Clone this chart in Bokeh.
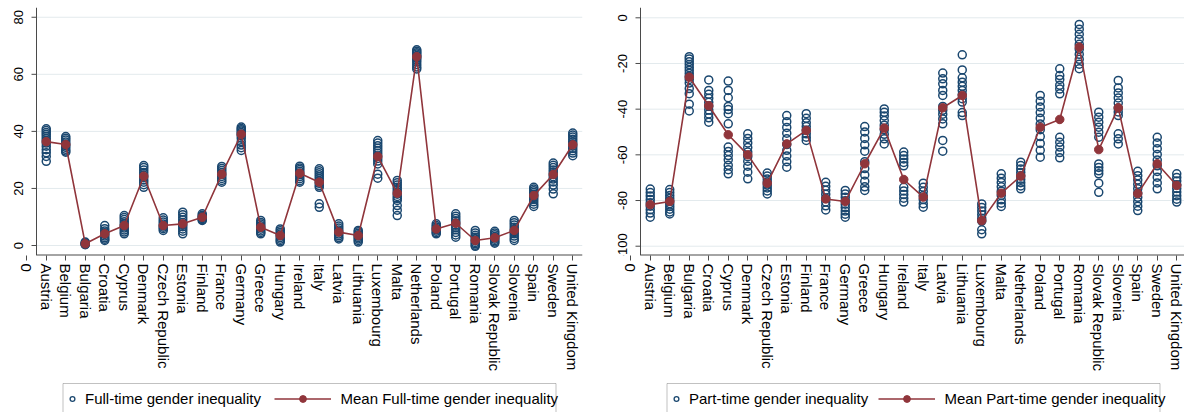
import numpy as np
from bokeh.plotting import figure
from bokeh.models import Range1d, FixedTicker, Legend, LegendItem, BoxAnnotation
from bokeh.core.properties import value
from bokeh.layouts import row, column
from bokeh.embed import file_html
from bokeh.resources import INLINE

# ---------------- data ----------------
countries = ["Austria", "Belgium", "Bulgaria", "Croatia", "Cyprus", "Denmark",
             "Czech Republic", "Estonia", "Finland", "France", "Germany", "Greece",
             "Hungary", "Ireland", "Italy", "Latvia", "Lithuania", "Luxembourg",
             "Malta", "Netherlands", "Poland", "Portugal", "Romania",
             "Slovak Republic", "Slovenia", "Spain", "Sweden", "United Kingdom"]

fulltime_obs = [
    [40.9, 40.3, 39.6, 39.0, 38.3, 37.5, 36.8, 35.9, 34.8, 33.6, 32.5, 31.2, 29.5],
    [38.2, 37.6, 37.0, 36.3, 35.6, 35.0, 34.4, 33.7, 33.1, 32.7],
    [1.2, 0.9, 0.7, 0.5, 0.4, 0.3],
    [7.0, 5.9, 5.1, 4.5, 3.9, 3.3, 2.7, 2.2, 1.8],
    [10.5, 9.8, 9.1, 8.3, 7.5, 6.8, 6.1, 5.4, 4.7, 4.1],
    [28.0, 27.3, 26.5, 25.6, 24.7, 23.9, 23.0, 22.2, 21.3, 20.4],
    [9.7, 8.9, 8.2, 7.5, 6.9, 6.4, 5.9, 5.3],
    [11.7, 10.8, 9.9, 9.0, 8.1, 7.3, 6.6, 5.8, 5.0, 4.1],
    [11.1, 10.6, 10.2, 9.8, 9.4, 9.0, 8.8],
    [27.7, 27.0, 26.3, 25.6, 24.9, 24.2, 23.5, 22.8, 22.2],
    [41.5, 41.0, 40.6, 40.1, 39.6, 39.1, 38.5, 37.6, 36.4, 35.2, 34.3, 33.3],
    [8.8, 8.1, 7.5, 6.9, 6.3, 5.7, 5.1, 4.6, 4.1],
    [5.8, 5.2, 4.6, 4.0, 3.4, 2.8, 2.2, 1.7, 1.2],
    [27.8, 27.2, 26.6, 26.0, 25.4, 24.8, 24.1, 23.4, 22.7, 22.2],
    [26.9, 26.2, 25.5, 24.8, 24.1, 23.4, 22.6, 21.8, 21.0, 20.4, 14.6, 13.4],
    [7.6, 6.8, 6.1, 5.4, 4.7, 4.0, 3.4, 2.8, 2.3],
    [5.3, 4.8, 4.3, 3.8, 3.3, 2.8, 2.3, 1.8, 1.2],
    [36.8, 35.9, 35.0, 34.1, 33.2, 32.3, 31.4, 30.5, 29.6, 28.6, 25.0, 23.6],
    [22.8, 22.0, 21.2, 20.4, 19.6, 18.8, 18.0, 17.2, 16.5, 15.8, 14.0, 12.4, 10.5],
    [68.6, 68.1, 67.6, 67.1, 66.6, 66.1, 65.6, 65.0, 64.3, 63.4, 62.6, 61.9],
    [7.6, 7.0, 6.5, 6.0, 5.5, 5.0, 4.5, 4.1],
    [11.1, 10.3, 9.5, 8.7, 7.9, 7.1, 6.3, 5.5, 4.6, 3.7, 2.9],
    [5.3, 4.4, 3.6, 2.9, 2.3, 1.7, 1.1, 0.6, 0.1, -0.3],
    [5.0, 4.4, 3.8, 3.2, 2.7, 2.2, 1.7, 1.2, 0.8],
    [8.8, 8.0, 7.2, 6.4, 5.6, 4.9, 4.1, 3.3, 2.5, 1.8],
    [20.4, 19.8, 19.2, 18.6, 18.0, 17.4, 16.8, 16.1, 15.3, 14.5, 13.7],
    [28.9, 28.1, 27.3, 26.5, 25.7, 24.9, 24.1, 23.3, 22.3, 21.2, 19.8, 18.1],
    [39.4, 38.7, 38.0, 37.2, 36.4, 35.6, 34.8, 34.0, 33.2, 32.4, 31.5],
]
fulltime_mean = [36.4, 35.4, 0.6, 4.1, 7.0, 24.3, 7.0, 7.6, 9.9, 25.0, 39.0, 6.4,
                 3.5, 25.3, 22.2, 4.7, 3.5, 31.2, 18.3, 66.2, 5.8, 7.8, 1.75,
                 2.7, 5.3, 17.5, 24.9, 35.3]

parttime_obs = [
    [-75.0, -76.5, -78.0, -79.5, -81.0, -82.5, -84.0, -85.5, -87.3],
    [-75.2, -76.5, -77.8, -79.0, -80.2, -81.4, -82.6, -83.8, -85.0, -85.9],
    [-17.0, -18.0, -19.2, -20.5, -21.8, -23.0, -24.3, -25.6, -27.0, -28.6, -31.0, -33.2, -37.8, -40.8],
    [-27.2, -31.8, -33.5, -35.2, -37.0, -38.7, -40.4, -42.1, -43.8, -45.7],
    [-27.7, -31.8, -35.0, -38.8, -40.2, -42.0, -46.4, -56.6, -58.5, -60.3, -62.2, -64.6, -66.5, -68.3],
    [-50.8, -52.8, -54.8, -56.8, -58.8, -60.8, -62.8, -65.0, -67.6, -70.5],
    [-68.0, -69.3, -70.6, -71.9, -73.2, -74.5, -75.8, -77.1],
    [-42.8, -45.5, -48.0, -50.5, -53.0, -55.5, -58.0, -60.5, -63.0, -65.4],
    [-42.0, -44.0, -46.0, -47.6, -49.2, -50.8, -52.3, -53.7],
    [-72.0, -73.8, -75.5, -77.2, -78.9, -80.6, -82.3, -84.1],
    [-75.6, -77.1, -78.6, -80.1, -81.6, -83.1, -84.6, -86.0, -87.3],
    [-47.6, -50.0, -52.8, -55.6, -58.4, -63.0, -66.0, -68.8, -71.6, -74.0, -75.6],
    [-39.9, -41.4, -43.0, -45.0, -47.0, -49.0, -51.0, -53.0, -55.2],
    [-58.8, -60.3, -61.8, -63.3, -64.8, -74.2, -75.8, -77.4, -79.0, -80.7],
    [-72.4, -74.2, -76.0, -77.8, -79.6, -81.4, -82.9],
    [-24.2, -26.7, -28.9, -31.8, -34.0, -38.8, -40.5, -42.2, -44.3, -46.4, -53.7, -58.4],
    [-16.2, -22.8, -26.3, -28.2, -30.0, -31.8, -33.6, -35.4, -36.9, -41.5, -42.8],
    [-81.5, -83.0, -84.6, -86.2, -87.8, -89.0, -92.8, -94.6],
    [-68.3, -70.2, -72.1, -74.0, -75.9, -77.8, -79.7, -81.2, -82.6],
    [-63.2, -64.7, -66.2, -67.7, -69.2, -70.7, -72.2, -73.6, -74.9],
    [-34.0, -36.5, -39.0, -41.5, -44.0, -46.5, -49.0, -52.0, -55.0, -58.0, -61.0],
    [-22.3, -25.3, -27.0, -29.5, -31.2, -33.3, -52.3, -54.5, -56.6, -59.0, -61.3],
    [-2.9, -5.0, -7.2, -9.4, -11.6, -13.8, -16.0, -18.2, -20.3, -22.3],
    [-41.3, -43.5, -45.7, -47.9, -50.1, -52.3, -64.0, -65.5, -67.0, -68.3, -72.4, -76.4],
    [-27.4, -30.7, -32.9, -35.1, -37.3, -39.5, -41.2, -42.8, -50.8, -53.0, -55.2],
    [-67.2, -69.1, -71.0, -72.9, -74.8, -76.7, -78.6, -80.5, -82.5, -84.4],
    [-52.3, -54.8, -57.3, -59.8, -62.3, -64.8, -67.3, -69.8, -72.3, -74.9],
    [-68.3, -69.9, -71.5, -73.1, -74.7, -76.3, -77.9, -79.4, -80.7],
]
parttime_mean = [-81.8, -80.4, -26.0, -38.5, -51.2, -60.0, -72.4, -55.2, -49.3,
                 -79.3, -80.4, -63.9, -48.3, -70.8, -78.5, -39.4, -34.0, -88.8,
                 -76.8, -69.3, -47.9, -44.5, -12.8, -57.7, -39.4, -77.0, -63.9,
                 -73.4]

fulltime_yticks = [0, 20, 40, 60, 80]
parttime_yticks = [-100, -80, -60, -40, -20, 0]

# ---------------- styling ----------------
NAVY = "#1a476f"
MAROON = "#90353b"
AXIS = "#4a4a4a"
GRID = "#e3eaed"
FONT = "Liberation Sans"
PLOT_H = 381
TOP = 7
FRAME_H = 248
LEG_H = 31
STEP = 19.5          # pixels per country


def make_panel(obs, means, yticks, yrange, width, gutter, br):
    # the plot region starts at x = 0.5; the gutter to its left holds the
    # y-axis labels and the stray "0" tick of the x axis
    xstart = 0.5 - gutter / STEP
    xend = 0.5 + (width - gutter - br) / STEP
    p = figure(width=width, height=PLOT_H, x_range=Range1d(xstart, xend),
               y_range=Range1d(*yrange), output_backend="svg",
               y_axis_location=None,
               toolbar_location=None, min_border_left=0, min_border_right=br,
               min_border_top=TOP, min_border_bottom=PLOT_H - TOP - FRAME_H)
    p.outline_line_color = None
    p.background_fill_color = "white"
    p.border_fill_color = "white"
    p.grid.visible = False

    xs, ys = [], []
    for i, vals in enumerate(obs):
        xs.extend([i + 1] * len(vals))
        ys.extend(vals)
    xm = list(range(1, len(means) + 1))
    n = len(yticks)

    # horizontal grid lines across the plot region only
    p.segment(x0=[0.5] * n, y0=yticks, x1=[xend] * n, y1=yticks,
              line_color=GRID, line_width=1)
    # y axis (line, outward ticks, vertical labels) at the plot region's left edge
    p.segment(x0=[0.5], y0=[yrange[0]], x1=[0.5], y1=[yrange[1]],
              line_color=AXIS, line_width=1)
    p.segment(x0=[0.5 - 5 / STEP] * n, y0=yticks, x1=[0.5] * n, y1=yticks,
              line_color=AXIS, line_width=1)
    p.text(x=[0.5 - 18 / STEP] * n, y=yticks, text=[str(t) for t in yticks],
           angle=np.pi / 2, text_align="center", text_baseline="middle",
           text_font=value(FONT), text_font_size="13px", text_color="black")
    # bottom axis line along the plot region only
    p.segment(x0=[0.5], y0=[yrange[0]], x1=[xend], y1=[yrange[0]],
              line_color=AXIS, line_width=2)

    p.scatter(xs, ys, marker="circle", size=8, fill_color=None,
              line_color=NAVY, line_width=1.5)
    p.line(xm, means, line_color=MAROON, line_width=1.6)
    p.scatter(xm, means, marker="circle", size=8.5, fill_color=MAROON,
              line_color=MAROON)

    # x axis
    ax = p.xaxis[0]
    ax.ticker = FixedTicker(ticks=[0] + xm)
    ax.axis_line_color = None
    ax.major_label_overrides = {i + 1: c for i, c in enumerate(countries)}
    ax.major_label_orientation = "vertical"
    ax.major_label_text_font_size = "15px"
    ax.major_label_standoff = 3
    ax.major_label_text_font = FONT
    ax.major_label_text_color = "black"
    ax.major_tick_line_color = AXIS
    ax.minor_tick_line_color = None
    ax.major_tick_out = 5
    ax.major_tick_in = 0
    return p


def make_legend(width, gutter, br, obs_label, mean_label):
    # same left/right borders as the panel above it, so the two line up
    lf = figure(width=width, height=LEG_H, x_range=Range1d(0, 1), y_range=Range1d(0, 1),
                x_axis_type=None, y_axis_type=None, output_backend="svg",
                toolbar_location=None, min_border_left=0, min_border_right=br,
                min_border_top=0, min_border_bottom=0)
    lf.outline_line_color = None
    lf.grid.visible = False
    # legend sample glyphs (their single point lies outside this strip's range)
    r_obs = lf.scatter(x=[5], y=[5], marker="circle", fill_color=None,
                       line_color=NAVY, line_width=1.3)
    r_line = lf.line(x=[5, 6], y=[5, 5], line_color=MAROON, line_width=1.6)
    r_mean = lf.scatter(x=[5], y=[5], marker="circle", fill_color=MAROON,
                        line_color=MAROON)
    common = dict(padding=0, margin=0, border_line_alpha=0, background_fill_alpha=0,
                  label_text_font=FONT, label_text_font_size="15px",
                  label_text_color="black", label_height=10, glyph_height=17)
    lf.add_layout(Legend(items=[LegendItem(label=obs_label, renderers=[r_obs])],
                         location=(gutter + 30, 5.5), glyph_width=12, label_standoff=7,
                         **common), "center")
    lf.add_layout(Legend(items=[LegendItem(label=mean_label, renderers=[r_line, r_mean])],
                         location=(gutter + 237.5, 5.5), glyph_width=57,
                         label_standoff=10, **common), "center")
    lf.add_layout(BoxAnnotation(left=gutter + 26.5, right=gutter + 519.5,
                                top=LEG_H - 2, bottom=-6,
                                left_units="screen", right_units="screen",
                                top_units="screen", bottom_units="screen",
                                fill_color=None, fill_alpha=0,
                                line_color="#333333", line_width=1))
    return lf


p1 = make_panel(fulltime_obs, fulltime_mean, fulltime_yticks, (-3.5, 83.42),
                600, 36, 18)
l1 = make_legend(600, 36, 18, "Full-time gender inequality",
                 "Mean Full-time gender inequality")
p2 = make_panel(parttime_obs, parttime_mean, parttime_yticks, (-104.07, 4.51),
                584, 40, 0)
l2 = make_legend(584, 40, 0, "Part-time gender inequality",
                 "Mean Part-time gender inequality")

layout = row(column(p1, l1), column(p2, l2))
open("out.html", "w").write(file_html(layout, INLINE))
